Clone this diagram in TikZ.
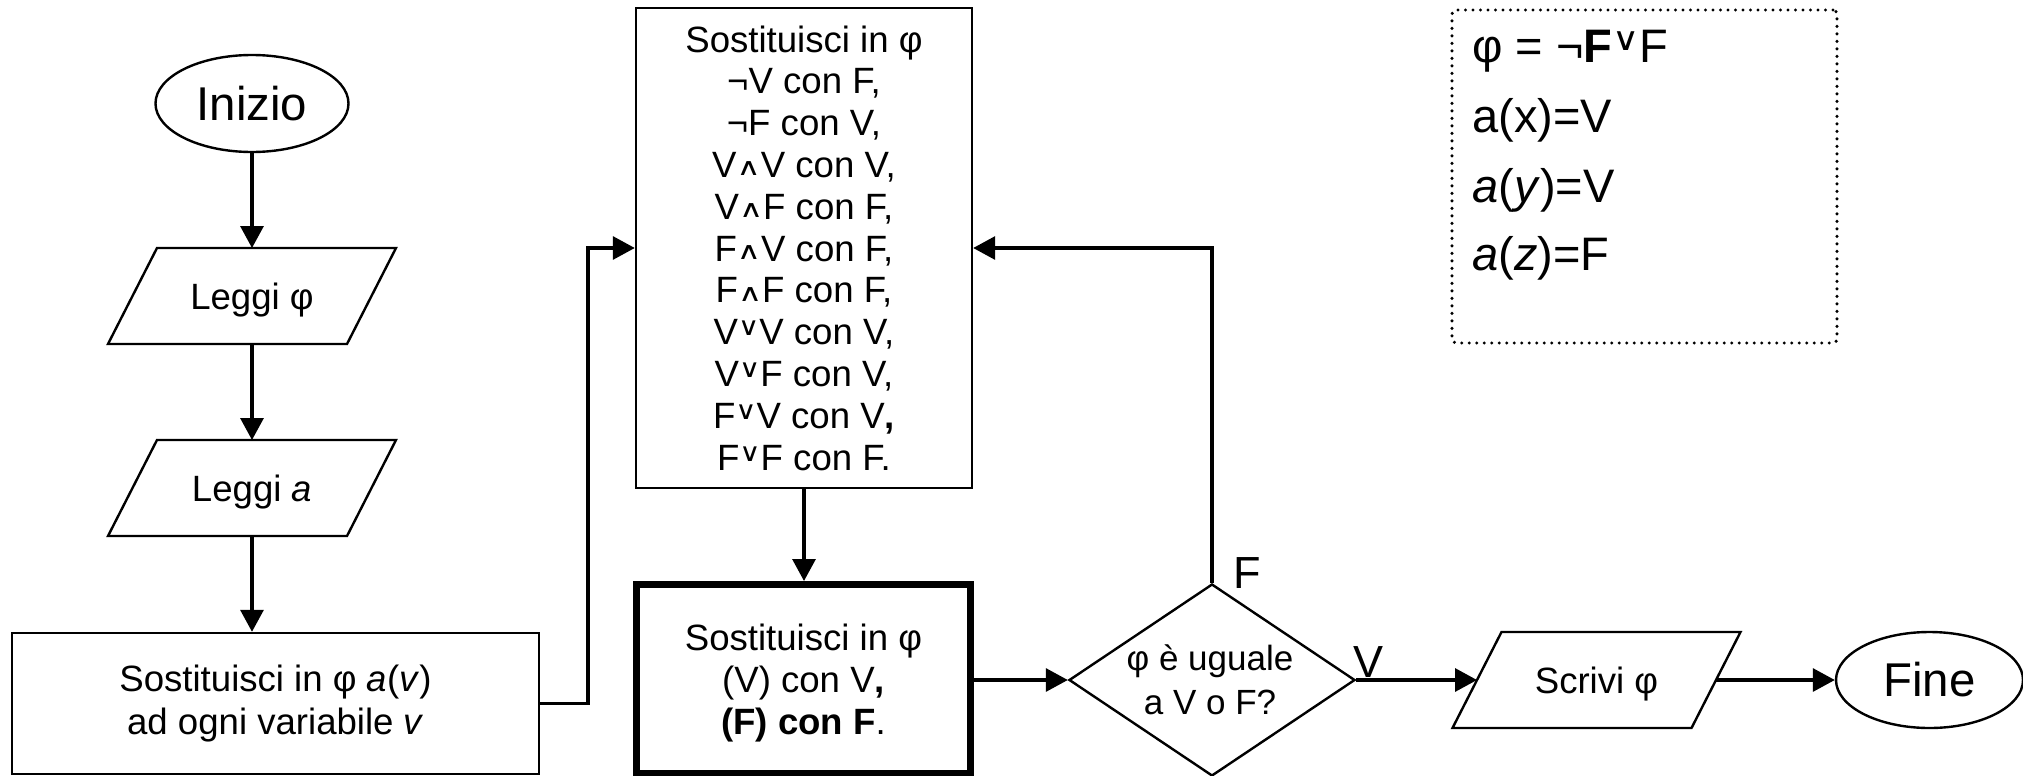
\documentclass[tikz,border=0pt]{standalone}
\usepackage{fontspec}
\setmainfont{Liberation Sans}
\newfontfamily\dejavu{DejaVu Sans}
\usepackage{graphicx}
\usetikzlibrary{shapes.geometric,arrows.meta}
\newcommand{\myAnd}{\raisebox{0.05em}{\resizebox{0.66em}{0.38em}{\dejavu ∧}}}
\newcommand{\myOr}{\raisebox{0.24em}{\resizebox{0.58em}{0.4em}{\dejavu ∨}}}
\lineskiplimit=-20pt
\begin{document}
\begin{tikzpicture}[x=0.5pt,y=-0.5pt,
  every node/.style={inner sep=0pt},
  bord/.style={draw=black,line width=1.2pt},
  conn/.style={line width=1.6pt,-{Triangle[length=11pt,width=11.5pt]}},
  body/.style={font=\fontsize{18.3}{20.9}\selectfont},
  term/.style={bord,ellipse,font=\fontsize{23.7}{23.7}\selectfont},
  iobox/.style={minimum width=119.5pt,minimum height=48pt,text depth=0pt,outer sep=0pt,body},
  legline/.style={anchor=base west,font=\fontsize{23.5}{23.5}\selectfont},
  branch/.style={anchor=base west,font=\fontsize{22.5}{22.5}\selectfont},
]
\fill[white] (0,0) rectangle (2023,776);
\useasboundingbox (0,0) rectangle (2023,776);

% left column
\node[term,minimum width=96.5pt,minimum height=48.5pt] (ini) at (252,103.5) {Inizio};
\node[iobox] (lp) at (252,296) {Leggi φ};
\node[iobox] (la) at (252,488) {Leggi \textit{a}};
\node[bord,align=center,minimum width=263.5pt,minimum height=70.5pt,
      font=\fontsize{18.3}{21.5}\selectfont] (sub) at (275.5,703.5)
  {Sostituisci in φ \textit{a}(\textit{v})~\\ad ogni variabile \textit{v}};

% rules box
\node[bord,body,align=center,minimum width=168pt,minimum height=240pt] (rules) at (804,248)
  {Sostituisci in φ\\
   ¬V con F,\\
   ¬F con V,\\
   V\myAnd V con V,\\
   V\myAnd F con F,\\
   F\myAnd V con F,\\
   F\myAnd F con F,\\
   V\myOr V con V,\\
   V\myOr F con V,\\
   F\myOr V con V\textbf{,}\\
   F\myOr F con F.};

% thick box
\node[draw=black,line width=3.5pt,body,align=center,text depth=0pt,
      minimum width=167pt,minimum height=94.5pt] (thick) at (803.5,679)
  {Sostituisci in φ\\(V) con V\textbf{,}\\\textbf{(F) con F}.};

% decision
\node[diamond,bord,minimum width=143pt,minimum height=96pt] (dec) at (1212,680) {};
\node[align=center,font=\fontsize{17.5}{22}\selectfont] (dectext) at (1210,680)
  {φ è uguale\\a V o F?};
\node[branch] (lf) at (1233,588) {F};
\node[branch] (lv) at (1353,677) {V};

% output and end
\node[iobox] (scr) at (1596.5,680) {Scrivi φ};
\node[term,minimum width=93.5pt,minimum height=48pt] (fine) at (1929.5,680) {Fine};

% parallelograms
\foreach \n in {lp,la,scr}{
  \draw[bord,line join=miter] ([xshift=12.25pt]\n.north west) -- ([xshift=12.25pt]\n.north east)
     -- ([xshift=-12.25pt]\n.south east) -- ([xshift=-12.25pt]\n.south west) -- cycle;
}

% legend
\node[draw=black,line width=1.7pt,dash pattern=on 0pt off 3.75pt,line cap=round,
      rounded corners=2pt,minimum width=192.5pt,minimum height=166.5pt] (leg) at (1644.5,176.5) {};
\node[legline] (l1) at (1472,62) {φ = ¬\textbf{F}\myOr F};
\node[legline] (l2) at (1472,132) {a(x)=V};
\node[legline] (l3) at (1472,202) {\textit{a}(\textit{y})=V};
\node[legline] (l4) at (1472,270) {\textit{a}(\textit{z})=F};

% connectors
\coordinate (j1) at (588,248);
\draw[conn] (ini.south) -- (ini.south |- lp.north);
\draw[conn] (lp.south) -- (la.north);
\draw[conn] (la.south) -- (la.south |- sub.north);
\draw[conn] (sub.east) -| (j1) -- (rules.west);
\draw[conn] (rules.south) -- (rules.south |- thick.north);
\draw[conn] (thick.east |- dec.west) -- (dec.west);
\draw[conn] (dec.north) |- (rules.east);
\draw[conn] (dec.east) -- (scr.west);
\draw[conn] (scr.east) -- (fine.west);
\end{tikzpicture}
\end{document}
